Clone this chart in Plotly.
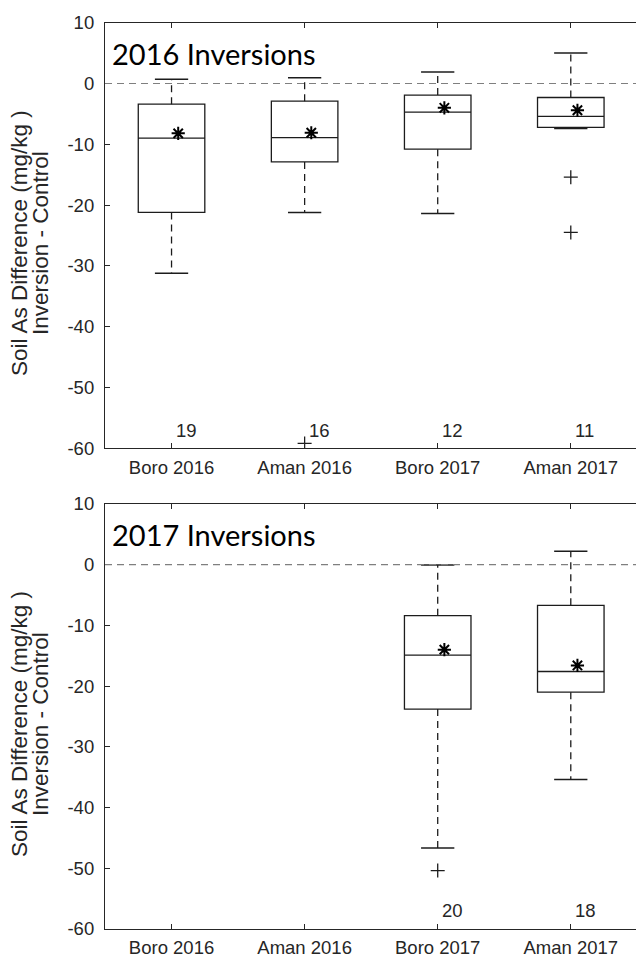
import plotly.graph_objects as go
from plotly.subplots import make_subplots

# ---- data -------------------------------------------------------------
categories = ["Boro 2016", "Aman 2016", "Boro 2017", "Aman 2017"]
positions = [1, 2, 3, 4]

# 2016 inversions (all four seasons)
p16_pos = [1, 2, 3, 4]
p16_q1 = [-21.2, -12.9, -10.8, -7.2]
p16_median = [-9.0, -8.9, -4.7, -5.4]
p16_q3 = [-3.4, -2.9, -1.9, -2.3]
p16_lower = [-31.2, -21.2, -21.4, -7.4]
p16_upper = [0.7, 0.95, 1.9, 5.0]
p16_mean = [-8.2, -8.1, -4.0, -4.4]
p16_out_x = [2, 4, 4]
p16_out_y = [-59.2, -15.4, -24.5]
p16_n = [19, 16, 12, 11]

# 2017 inversions (2017 seasons only)
p17_pos = [3, 4]
p17_q1 = [-23.8, -21.0]
p17_median = [-14.9, -17.6]
p17_q3 = [-8.4, -6.7]
p17_lower = [-46.7, -35.4]
p17_upper = [-0.05, 2.2]
p17_mean = [-14.0, -16.6]
p17_out_x = [3]
p17_out_y = [-50.4]
p17_n = [20, 18]

y_ticks = [-60, -50, -40, -30, -20, -10, 0, 10]
y_ticktext = ["-60", "-50", "-40", "-30", "-20", "-10", "0", "10"]
panel_titles = ["2016 Inversions", "2017 Inversions"]
ylabel_lines = ["Soil As Difference (mg/kg )", "Inversion - Control"]

# ---- styling ----------------------------------------------------------
W, H = 636, 957
AX = "#262626"
INK = "#1c1c1c"
TICK_FONT = dict(family="Liberation Sans, Arial, sans-serif", size=18.5, color=AX)
LABEL_FONT = dict(family="Liberation Sans, Arial, sans-serif", size=22.5, color=AX)
BOX_W = 0.5
CAP_W = 0.25
MEAN_DX = 0.05
Y_RANGE = [-60, 10]

fig = make_subplots(rows=2, cols=1)


def add_panel(row, pos, q1, med, q3, lo, hi, mean, ox, oy, n):
    # boxes (quartiles + median only; whiskers drawn separately dashed)
    fig.add_trace(go.Box(
        x=pos, q1=q1, median=med, q3=q3, lowerfence=q1, upperfence=q3,
        width=BOX_W, whiskerwidth=0, boxpoints=False,
        fillcolor="rgba(255,255,255,0)",
        line=dict(color=INK, width=1.3), showlegend=False, hoverinfo="skip",
    ), row=row, col=1)

    wx, wy = [], []
    cx, cy = [], []
    for p, a, b, l, h in zip(pos, q1, q3, lo, hi):
        wx += [p, p, None, p, p, None]
        wy += [b, h, None, a, l, None]
        cx += [p - CAP_W / 2, p + CAP_W / 2, None, p - CAP_W / 2, p + CAP_W / 2, None]
        cy += [h, h, None, l, l, None]
    fig.add_trace(go.Scatter(x=wx, y=wy, mode="lines",
                             line=dict(color=INK, width=1.3, dash="7px,5px"),
                             showlegend=False, hoverinfo="skip"), row=row, col=1)
    fig.add_trace(go.Scatter(x=cx, y=cy, mode="lines",
                             line=dict(color=INK, width=1.5),
                             showlegend=False, hoverinfo="skip"), row=row, col=1)

    # outliers
    fig.add_trace(go.Scatter(x=ox, y=oy, mode="markers",
                             marker=dict(symbol="cross-thin-open", size=10, color=INK,
                                         line=dict(color=INK, width=1.3)),
                             showlegend=False, hoverinfo="skip"), row=row, col=1)
    # means
    fig.add_trace(go.Scatter(x=[p + MEAN_DX for p in pos], y=mean, mode="markers",
                             marker=dict(symbol="asterisk-open", size=11, color="#000",
                                         line=dict(color="#000", width=2)),
                             showlegend=False, hoverinfo="skip"), row=row, col=1)

    xr = "x" if row == 1 else "x2"
    yr = "y" if row == 1 else "y2"
    # sample counts
    for p, k in zip(pos, n):
        fig.add_annotation(x=p + 0.02, y=-57, xref=xr, yref=yr, text=str(k),
                           showarrow=False, xanchor="left", yanchor="middle",
                           font=TICK_FONT)
    # panel title
    fig.add_annotation(x=0.535, y=4.9, xref=xr, yref=yr, text=panel_titles[row - 1],
                       showarrow=False, xanchor="left", yanchor="middle",
                       font=dict(family="Lato, Carlito, sans-serif", size=29, color="#000"))
    # zero reference line
    fig.add_shape(type="line", xref=xr + " domain", yref=yr, x0=0, x1=1, y0=0, y1=0,
                  line=dict(color="#7f7f7f", width=1.2, dash="7px,5px"))
    # two-line y label
    for dx, txt in zip([-0.1613, -0.1217], ylabel_lines):
        fig.add_annotation(x=dx, y=0.483, xref=xr + " domain", yref=yr + " domain",
                           text=txt, textangle=-90, showarrow=False,
                           xanchor="center", yanchor="middle", font=LABEL_FONT)


add_panel(1, p16_pos, p16_q1, p16_median, p16_q3, p16_lower, p16_upper,
          p16_mean, p16_out_x, p16_out_y, p16_n)
add_panel(2, p17_pos, p17_q1, p17_median, p17_q3, p17_lower, p17_upper,
          p17_mean, p17_out_x, p17_out_y, p17_n)

tick_common = dict(ticks="inside", ticklen=5, tickcolor=AX, tickwidth=1.2,
                   showgrid=False, zeroline=False, tickfont=TICK_FONT)

for r in (1, 2):
    fig.update_xaxes(range=[0.5, 4.49], tickvals=positions, ticktext=categories,
                     showline=True, linecolor=AX, linewidth=1.2, mirror="ticks",
                     ticklabelstandoff=2, row=r, col=1, **tick_common)
    fig.update_yaxes(range=Y_RANGE, tickvals=y_ticks, ticktext=y_ticktext,
                     showline=True, linecolor=AX, linewidth=1.2, mirror=False,
                     ticklabelstandoff=6, row=r, col=1, **tick_common)

# right-hand tick marks (frame edge sits at the page border)
right_ticks = dict(side="right", range=Y_RANGE, tickvals=y_ticks, showticklabels=False,
                   showline=False, ticks="inside", ticklen=5, tickcolor=AX, tickwidth=1.2,
                   showgrid=False, zeroline=False)

fig.update_layout(
    width=W, height=H,
    margin=dict(l=105, r=0, t=0, b=0, autoexpand=False),
    paper_bgcolor="white", plot_bgcolor="white",
    boxmode="overlay",
    yaxis=dict(domain=[1 - 448.3 / H, 1 - 22.7 / H]),
    yaxis2=dict(domain=[1 - 928.8 / H, 1 - 504 / H]),
    yaxis3=dict(overlaying="y", anchor="x", **right_ticks),
    yaxis4=dict(overlaying="y2", anchor="x2", **right_ticks),
    xaxis=dict(domain=[0, 1]), xaxis2=dict(domain=[0, 1]),
)

fig.write_html("out.html")
